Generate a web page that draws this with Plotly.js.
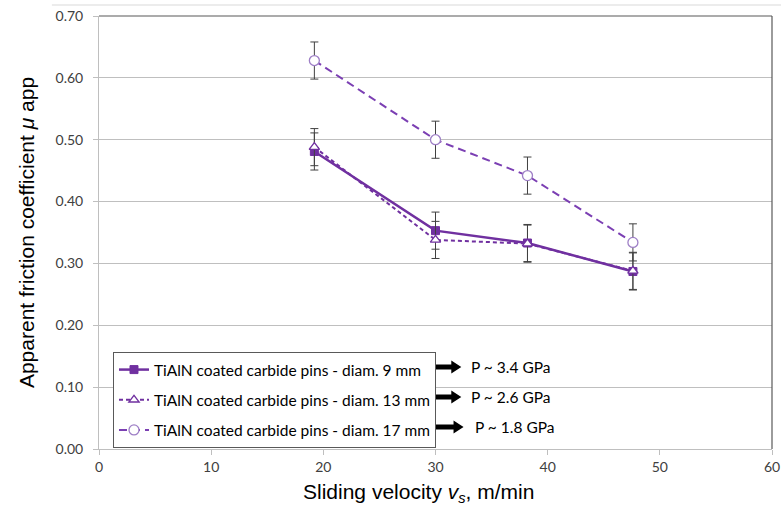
<!DOCTYPE html>
<html>
<head>
<meta charset="utf-8">
<script src="https://cdn.plot.ly/plotly-3.0.1.min.js"></script>
<style>html,body{margin:0;padding:0;background:#fff;}#chart{width:781px;height:511px;}</style>
</head>
<body>
<div id="chart"></div>
<script>
// Data
const velocity9  = [19.2, 30.0, 38.2, 47.6];
const velocity13 = [19.2, 30.0, 38.2, 47.6];
const velocity17 = [19.2, 30.0, 38.2, 47.6];
const mu9  = [0.481, 0.353, 0.333, 0.287];
const mu13 = [0.488, 0.338, 0.332, 0.288];
const mu17 = [0.628, 0.500, 0.442, 0.334];
const err9  = [0.03, 0.03, 0.03, 0.03];
const err13 = [0.03, 0.03, 0.03, 0.03];
const err17 = [0.03, 0.03, 0.03, 0.03];
const seriesNames = [
  "TiAlN coated carbide pins - diam. 9 mm",
  "TiAlN coated carbide pins - diam. 13 mm",
  "TiAlN coated carbide pins - diam. 17 mm"
];
const pressureLabels = ["P ~ 3.4 GPa", "P ~ 2.6 GPa", "P ~ 1.8 GPa"];
const xTicks = [0, 10, 20, 30, 40, 50, 60];
const yTicks = [0, 0.1, 0.2, 0.3, 0.4, 0.5, 0.6, 0.7];
const xTitle = 'Sliding velocity <i>v</i><sub><i>s</i></sub>, m/min';
const yTitle = 'Apparent friction coefficient <i>μ</i> app';

const errStyle = {type: 'data', visible: true, color: '#404040', thickness: 1, width: 4};
const tickFont = {family: 'Lato, "Open Sans", sans-serif', size: 14, color: '#404040'};
const labelFont = {family: 'Lato, "Open Sans", sans-serif', size: 15.5, color: '#000000'};
const titleFont = {family: 'Liberation Sans, Arial, sans-serif', size: 21, color: '#000000'};

const traces = [
  {x: velocity9, y: mu9, name: seriesNames[0], mode: 'lines+markers', legendgroup: 'g1',
   line: {color: '#7030A0', width: 2.5},
   marker: {symbol: 'square', size: 8, color: '#7030A0', line: {color: '#7030A0', width: 1}},
   error_y: Object.assign({array: err9}, errStyle)},
  {x: velocity13, y: mu13, name: seriesNames[1], mode: 'lines+markers', legendgroup: 'g2',
   line: {color: '#7030A0', width: 2, dash: '4px,3px'},
   marker: {symbol: 'triangle-up', size: 9, color: '#ffffff', line: {color: '#7030A0', width: 1.3}},
   error_y: Object.assign({array: err13}, errStyle)},
  {x: velocity17, y: mu17, name: seriesNames[2], mode: 'lines+markers', legendgroup: 'g3',
   line: {color: '#7B3FB3', width: 2, dash: '8px,5px'},
   marker: {symbol: 'circle', size: 10, color: '#ffffff', line: {color: '#9E7FC6', width: 1.3}},
   error_y: Object.assign({array: err17}, errStyle)}
];

// arrow positions (tip) and label positions, in data units
const arrowTipX = [32.3, 32.3, 32.5];
const arrowY = [0.1325, 0.084, 0.0355];
const labelX = [33.0, 33.0, 33.3];

const arrowPath = 'M-29,-2.5 L-10,-2.5 L-10,-6.5 L0,0 L-10,6.5 L-10,2.5 L-29,2.5 Z';
const shapes = [
  {type: 'line', xref: 'paper', yref: 'paper', x0: 0, x1: 1, y0: 1, y1: 1, line: {color: '#595959', width: 1.2}},
  {type: 'line', xref: 'paper', yref: 'paper', x0: 1, x1: 1, y0: 0, y1: 1, line: {color: '#595959', width: 1.2}},
  {type: 'line', xref: 'paper', yref: 'paper', x0: -0.07, x1: 1.02, y0: 1.0254, y1: 1.0254, line: {color: '#D9D9D9', width: 1}}
];
const annotations = [
  {x: 0.474, y: -0.1016, xref: 'paper', yref: 'paper', xanchor: 'center', yanchor: 'middle',
   text: xTitle, showarrow: false, font: titleFont}
];
for (let i = 0; i < 3; i++) {
  shapes.push({type: 'path', xref: 'x', yref: 'y', xsizemode: 'pixel', ysizemode: 'pixel',
    xanchor: arrowTipX[i], yanchor: arrowY[i], path: arrowPath,
    fillcolor: '#000000', line: {width: 0}});
  annotations.push({x: labelX[i], y: arrowY[i], xref: 'x', yref: 'y', xanchor: 'left', yanchor: 'middle',
    text: pressureLabels[i], showarrow: false, font: labelFont});
}

const layout = {
  width: 781, height: 511,
  margin: {l: 99, r: 9, t: 16, b: 62},
  paper_bgcolor: '#ffffff', plot_bgcolor: '#ffffff',
  showlegend: true,
  legend: {x: 0.0208, y: 0.224, xanchor: 'left', yanchor: 'top',
    bgcolor: '#ffffff', bordercolor: '#595959', borderwidth: 1,
    traceorder: 'grouped', tracegroupgap: 7, itemwidth: 30,
    font: labelFont},
  xaxis: {range: [0, 60], tickvals: xTicks, ticktext: xTicks.map(String),
    showgrid: false, zeroline: false, showline: true, linecolor: '#BFBFBF', linewidth: 1,
    ticks: 'outside', ticklen: 5, tickcolor: '#BFBFBF', tickfont: tickFont},
  yaxis: {range: [0, 0.7], tickvals: yTicks, ticktext: yTicks.map(v => v.toFixed(2)),
    showgrid: true, gridcolor: '#BFBFBF', gridwidth: 1, zeroline: false,
    showline: true, linecolor: '#BFBFBF', linewidth: 1,
    ticks: 'outside', ticklen: 5, tickcolor: '#BFBFBF', tickfont: tickFont,
    ticklabelstandoff: 7,
    title: {text: yTitle, standoff: 15, font: titleFont}},
  shapes: shapes,
  annotations: annotations
};

Plotly.newPlot('chart', traces, layout, {displayModeBar: false, staticPlot: true});
</script>
</body>
</html>
